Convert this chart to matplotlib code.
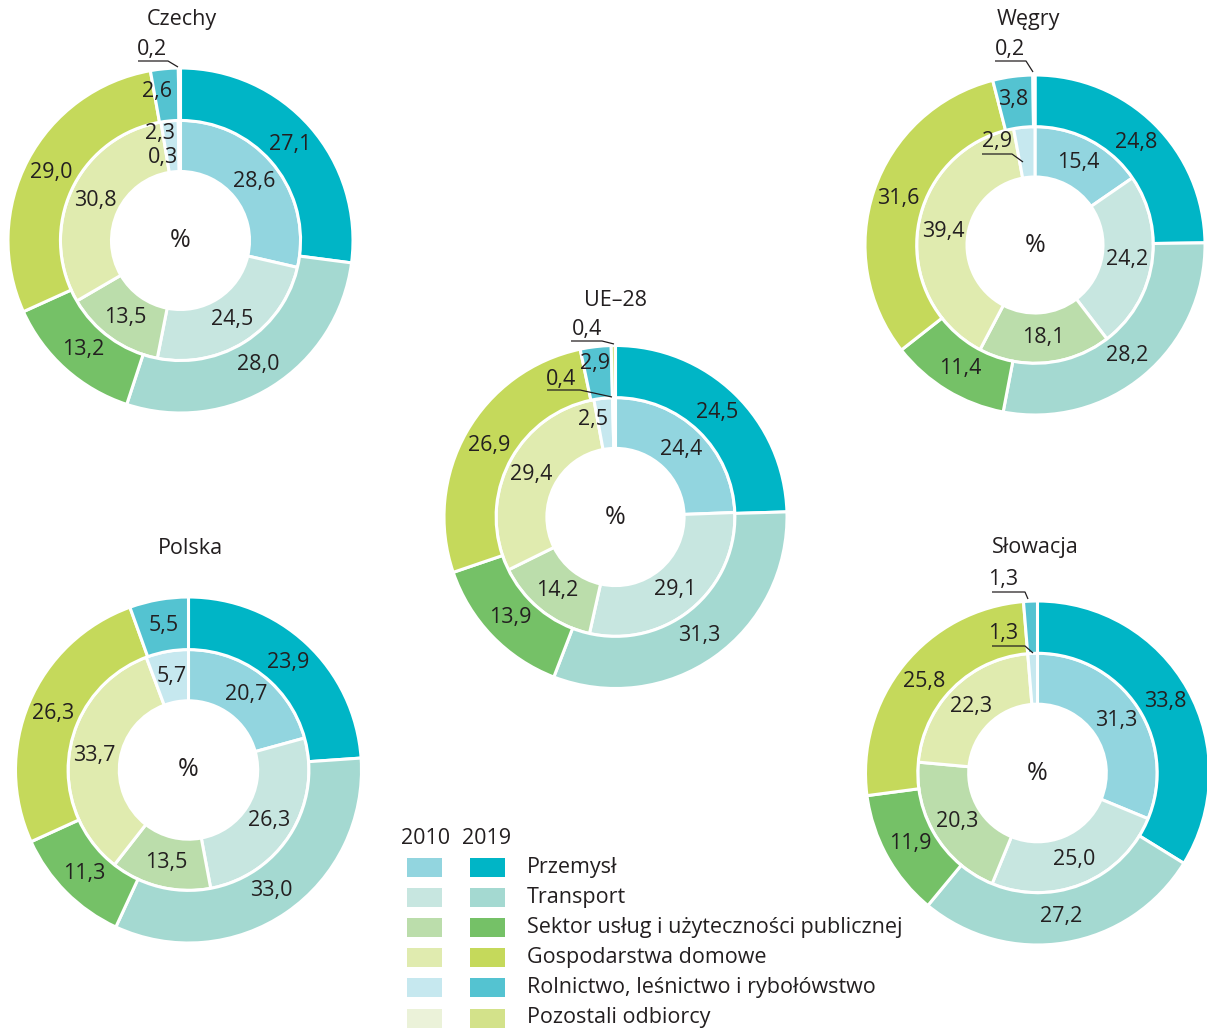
import matplotlib
matplotlib.use("Agg")
import matplotlib.pyplot as plt
import numpy as np

W, H = 1207, 1031
plt.rcParams['font.family'] = ['Open Sans', 'DejaVu Sans']

categories = ["Przemysł", "Transport", "Sektor usług i użyteczności publicznej",
              "Gospodarstwa domowe", "Rolnictwo, leśnictwo i rybołówstwo", "Pozostali odbiorcy"]
years = ["2010", "2019"]

countries = ["Czechy", "Węgry", "UE–28", "Polska", "Słowacja"]

# 2010 (inner ring) and 2019 (outer ring) shares, %
czechy_2010 = [28.6, 24.5, 13.5, 30.8, 2.3, 0.3]
czechy_2019 = [27.1, 28.0, 13.2, 29.0, 2.6, 0.2]
wegry_2010 = [15.4, 24.2, 18.1, 39.4, 2.9, 0.0]
wegry_2019 = [24.8, 28.2, 11.4, 31.6, 3.8, 0.2]
ue28_2010 = [24.4, 29.1, 14.2, 29.4, 2.5, 0.4]
ue28_2019 = [24.5, 31.3, 13.9, 26.9, 2.9, 0.4]
polska_2010 = [20.7, 26.3, 13.5, 33.7, 5.7, 0.0]
polska_2019 = [23.9, 33.0, 11.3, 26.3, 5.5, 0.0]
slowacja_2010 = [31.3, 25.0, 20.3, 22.3, 1.3, 0.0]
slowacja_2019 = [33.8, 27.2, 11.9, 25.8, 1.3, 0.0]

data_2010 = [czechy_2010, wegry_2010, ue28_2010, polska_2010, slowacja_2010]
data_2019 = [czechy_2019, wegry_2019, ue28_2019, polska_2019, slowacja_2019]

colors_2010 = ["#92D5DF", "#C7E6E0", "#BBDDAB", "#E0EBAF", "#C6E8EF", "#EBF2D9"]
colors_2019 = ["#00B5C6", "#A4D9D1", "#75C167", "#C5D95B", "#54C3D1", "#D3E28A"]

TXT = "#231F20"
FS = 15.5

# layout (pixel positions, image coords)
centers = [(180.5, 240.5), (1035, 245), (615.5, 517), (188.5, 770), (1037.5, 773)]
radii = [172.5, 170, 171.5, 173, 172]
titles_pos = [(182, 20), (1028, 20), (615, 300), (190, 548), (1035, 548)]

# manual label placements for tiny slices: (country idx, ring, cat idx) -> (x, y, underline/leader or None)
manual = {
    (0, 1, 5): (152, 50, (138, 168, 61, 178, 67)),
    (0, 1, 4): (157, 92, None),
    (0, 0, 4): (160, 134, None),
    (0, 0, 5): (163, 158, None),
    (1, 1, 5): (1010, 50, (995, 1026, 61, 1033, 72)),
    (1, 1, 4): (1013, 99, None),
    (1, 0, 4): (997, 142, (982, 1012, 154, 1023, 162)),
    (2, 1, 5): (587, 330, (571, 602, 341, 614, 344)),
    (2, 1, 4): (595, 363, None),
    (2, 0, 5): (561, 379, (547, 580, 390, 612, 397)),
    (2, 0, 4): (593, 419, None),
    (4, 1, 4): (1003, 580, (992, 1025, 592, 1028, 599)),
    (4, 0, 4): (1003, 634, (992, 1025, 646, 1033, 653)),
}

fig = plt.figure(figsize=(W / 100, H / 100), dpi=100)
ax = fig.add_axes([0, 0, 1, 1])


def fmt(v):
    return f"{v:.1f}".replace(".", ",")


for ci, name in enumerate(countries):
    cx, cy = centers[ci]
    R = radii[ci]
    Rm = R * 0.696
    Rh = R * 0.40
    for ring, (vals, cols, r_out, r_in) in enumerate([
            (data_2010[ci], colors_2010, Rm, Rh),
            (data_2019[ci], colors_2019, R, Rm)]):
        idx = [i for i, v in enumerate(vals) if v > 0]
        v = [vals[i] for i in idx]
        c = [cols[i] for i in idx]
        ax.pie(v, colors=c, radius=r_out, center=(cx, H - cy), startangle=90,
               counterclock=False,
               wedgeprops=dict(width=r_out - r_in, edgecolor="white", linewidth=2.2))
        total = sum(v)
        cum = 0.0
        rmid = (r_out + r_in) / 2
        for i, val in zip(idx, v):
            frac = (cum + val / 2) / total
            cum += val
            key = (ci, ring, i)
            if key in manual:
                tx, ty, line = manual[key]
                ax.text(tx, H - ty, fmt(val), ha="center", va="center", fontsize=FS, color=TXT)
                if line is not None:
                    x0, x1, yl, lx, ly = line
                    ax.plot([x0, x1, lx], [H - yl, H - yl, H - ly], color=TXT, lw=0.9,
                            solid_capstyle="butt")
            else:
                th = np.deg2rad(360 * frac)
                tx = cx + rmid * np.sin(th)
                ty = cy - rmid * np.cos(th)
                ax.text(tx, H - ty, fmt(val), ha="center", va="center", fontsize=FS, color=TXT)
    ax.text(cx, H - cy, "%", ha="center", va="center", fontsize=18, color=TXT)
    tx, ty = titles_pos[ci]
    ax.text(tx, H - ty, name, ha="center", va="center", fontsize=FS, color=TXT)

# legend
ax.text(426, H - 838, years[0], ha="center", va="center", fontsize=FS, color=TXT)
ax.text(487, H - 838, years[1], ha="center", va="center", fontsize=FS, color=TXT)
for k, cat in enumerate(categories):
    yc = 867 + k * 30.2
    ax.add_patch(plt.Rectangle((407, H - yc - 9.5), 35, 19, facecolor=colors_2010[k], edgecolor="none"))
    ax.add_patch(plt.Rectangle((470, H - yc - 9.5), 35, 19, facecolor=colors_2019[k], edgecolor="none"))
    ax.text(527, H - yc, cat, ha="left", va="center", fontsize=FS, color=TXT)

ax.set_xlim(0, W)
ax.set_ylim(0, H)
ax.set_aspect("equal")
ax.axis("off")
fig.savefig("out.png", dpi=100)
